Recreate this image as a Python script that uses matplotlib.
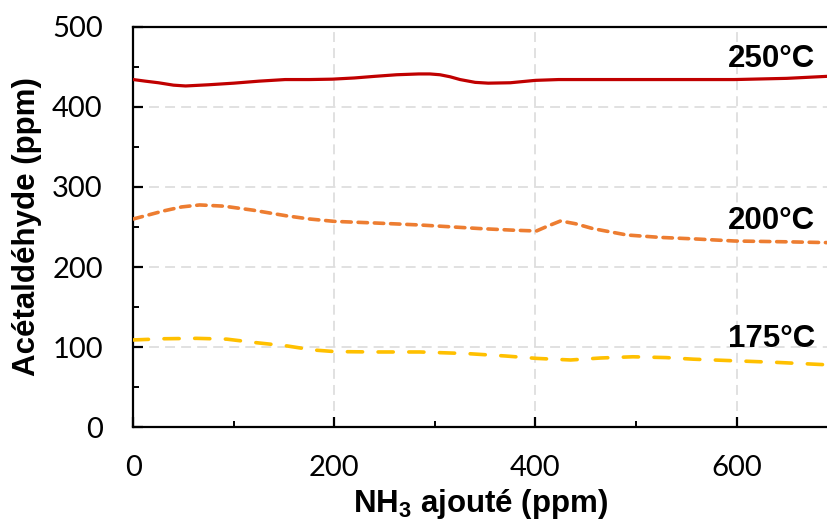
import matplotlib
matplotlib.use("Agg")
import matplotlib.pyplot as plt
from matplotlib.ticker import MultipleLocator

plt.rcParams['mathtext.fontset'] = 'custom'
plt.rcParams['mathtext.rm'] = 'Liberation Sans:bold'
plt.rcParams['mathtext.bf'] = 'Liberation Sans:bold'
plt.rcParams['mathtext.default'] = 'rm'

# Data
x_250 = [0, 12, 25, 40, 52, 75, 100, 125, 151, 175, 198, 220, 240, 262, 284, 295, 305, 315, 325, 340, 353, 375, 400, 423, 500, 598, 650, 690]
y_250 = [434, 432, 430, 427, 426, 427.5, 429.5, 432, 434, 434, 434.5, 436, 438, 440, 441, 441, 440, 437.5, 434, 430.5, 429.5, 430, 433, 434, 434, 434, 435.5, 438]

x_200 = [0, 15, 30, 48, 66, 90, 119, 152, 175, 200, 240, 285, 345, 378, 401, 412, 425, 440, 457, 491, 524, 560, 598, 650, 690]
y_200 = [260, 265, 270, 275, 277.5, 276, 271, 264, 260, 257, 255, 252.5, 248, 246, 245, 251, 257.5, 254, 248, 240, 237, 235, 232.5, 231.5, 230.5]

x_175 = [0, 30, 63, 93, 123, 153, 179, 200, 240, 285, 332, 370, 401, 435, 465, 497, 530, 557, 598, 640, 690]
y_175 = [109, 110.5, 111, 110, 105.5, 101.5, 96.5, 94.5, 94, 94, 92, 89, 86, 84, 86.5, 88, 87, 85, 83, 81, 78]

series_labels = ["250°C", "200°C", "175°C"]
label_x = [678, 678, 678]
label_y = [450, 248, 100.5]

xlabel = r"NH$_{3}$ ajouté (ppm)"
ylabel = "Acétaldéhyde (ppm)"

fig = plt.figure(figsize=(8.27, 5.23), dpi=100)
ax = fig.add_axes([0.1612, 0.183, 0.8388, 0.766])

ax.plot(x_250, y_250, color="#C00000", lw=2.3, solid_capstyle="round", solid_joinstyle="round", zorder=3)
ax.plot(x_200, y_200, color="#ED7D31", lw=2.6, dashes=(2.6, 1.9), dash_capstyle="round", zorder=3)
ax.plot(x_175, y_175, color="#FFC000", lw=2.6, dashes=(4.2, 4.3), dash_capstyle="round", zorder=3)

for t, lx, ly in zip(series_labels, label_x, label_y):
    ax.text(lx, ly, t, ha="right", va="baseline", fontsize=22.5, fontweight="bold",
            family="Liberation Sans", color="black", zorder=4)

ax.set_xlim(0, 690)
ax.set_ylim(0, 500)
ax.xaxis.set_major_locator(MultipleLocator(200))
ax.xaxis.set_minor_locator(MultipleLocator(100))
ax.yaxis.set_major_locator(MultipleLocator(100))
ax.yaxis.set_minor_locator(MultipleLocator(50))

ax.grid(True, which="major", color="#D9D9D9", lw=1.1, linestyle=(0, (6.5, 4)), zorder=0)

for side in ["left", "bottom", "top"]:
    ax.spines[side].set_linewidth(1.6)
    ax.spines[side].set_color("black")
ax.spines["right"].set_visible(False)

ax.tick_params(axis="both", which="major", direction="in", length=7, width=1.6,
               labelsize=21, colors="black")
ax.tick_params(axis="both", which="minor", direction="in", length=4.5, width=1.4)
ax.tick_params(axis="x", which="major", pad=20)
ax.tick_params(axis="y", which="major", pad=22)
for lab in ax.get_xticklabels() + ax.get_yticklabels():
    lab.set_family("Lato")

ax.set_xlabel(xlabel, fontsize=22.5, fontweight="bold", family="Liberation Sans", labelpad=4)
ax.set_ylabel(ylabel, fontsize=22.5, fontweight="bold", family="Liberation Sans", labelpad=7)

fig.savefig("out.png", dpi=100)
